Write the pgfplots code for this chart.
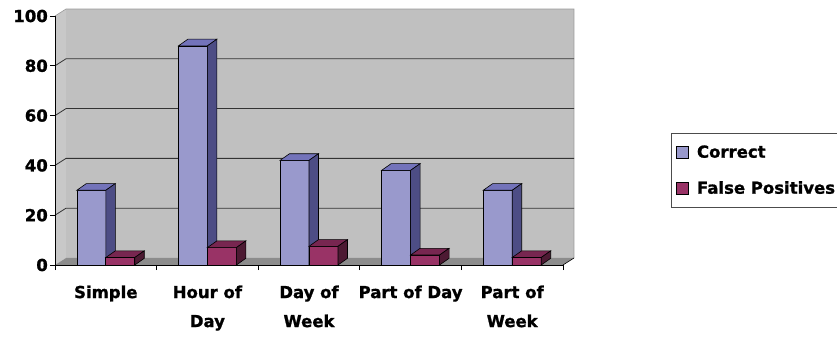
\documentclass[border=0pt]{standalone}
\usepackage{pgfplots}
\pgfplotsset{compat=1.18}
\usepackage{pgfplotstable}
\usepackage{fontspec}
\setmainfont{DejaVu Sans}[BoldFeatures={FakeBold=1.2}]

\definecolor{wallgray}{HTML}{C0C0C0}
\definecolor{sidegray}{HTML}{C8C8C8}
\definecolor{floorgray}{HTML}{8C8C8C}
\definecolor{gridcol}{HTML}{333333}
\definecolor{corFront}{HTML}{9999CC}
\definecolor{corTop}{HTML}{7373BA}
\definecolor{corSide}{HTML}{4D4D85}
\definecolor{fpFront}{HTML}{993366}
\definecolor{fpTop}{HTML}{772650}
\definecolor{fpSide}{HTML}{4D1A33}

% scores per feature set
\pgfplotstableread{
cat correct falsepos
0 30 3
1 88 7
2 42 7.5
3 38 4
4 30 3
}\results

% 3D column drawn around the top centre of its front face; \barv is the value
\newcommand\colbox[3]{%
  \pgfmathsetlengthmacro\hh{\barv*2.49bp}%
  \filldraw[draw=black, line width=0.6bp, fill=#1] (-14.5bp,-\hh) rectangle (14.5bp,0pt);
  \filldraw[draw=black, line width=0.6bp, fill=#2] (-14.5bp,0pt) -- (14.5bp,0pt) -- (24bp,6.7bp) -- (-5bp,6.7bp) -- cycle;
  \filldraw[draw=black, line width=0.6bp, fill=#3] (14.5bp,0pt) -- (24bp,6.7bp) -- (24bp,6.7bp-\hh) -- (14.5bp,-\hh) -- cycle;
}
\pgfdeclareplotmark{colA}{\colbox{corFront}{corTop}{corSide}}
\pgfdeclareplotmark{colB}{\colbox{fpFront}{fpTop}{fpSide}}

\tikzset{back/.style={shift={(11bp,7bp)}}}

\begin{document}
\begin{tikzpicture}
\useasboundingbox (0,0) rectangle (837bp,338bp);
\begin{axis}[
  at={(55bp,73bp)}, anchor=south west,
  scale only axis, width=508bp, height=249bp,
  xmin=-0.5, xmax=4.5, ymin=0, ymax=100,
  clip=false, axis on top,
  axis x line*=bottom, axis y line*=left,
  axis line style={-, black, line width=0.8bp},
  tick align=outside, major tick length=5bp,
  tick style={black, line width=0.8bp},
  ytick={0,20,...,100},
  xtick={-0.5,0.5,...,4.5},
  x tick label as interval,
  xticklabels={Simple, Hour of\\Day, Day of\\Week, Part of Day, Part of\\Week},
  /pgf/number format/assume math mode=true,
  yticklabel style={font=\bfseries\fontsize{16.5bp}{19bp}\selectfont, inner sep=2bp},
  xticklabel style={font=\bfseries\fontsize{16.5bp}{29bp}\selectfont, align=center, yshift=-12bp},
  legend style={
    at={(axis description cs:1.2126,0.530)}, anchor=north west,
    draw=black!70, line width=0.8bp, fill=white,
    font=\bfseries\fontsize{16.5bp}{19bp}\selectfont,
    inner xsep=5bp, inner ysep=11bp, row sep=20bp,
    nodes={inner sep=1bp},
    /tikz/every odd column/.append style={column sep=7bp},
  },
  legend cell align=left,
  legend image code/.code={\filldraw[#1, draw=black, line width=0.6bp] (0bp,-6bp) rectangle (12bp,6bp);},
]
  % walls and floor
  \fill[sidegray] (axis cs:-0.5,0) -- (axis cs:-0.5,100) -- ([back]axis cs:-0.5,100) -- ([back]axis cs:-0.5,0) -- cycle;
  \fill[wallgray] ([back]axis cs:-0.5,0) rectangle ([back]axis cs:4.5,100);
  \draw[gray!80, line width=0.6bp] (axis cs:-0.5,100) -- ([back]axis cs:-0.5,100) -- ([back]axis cs:4.5,100) -- ([back]axis cs:4.5,0);
  \fill[floorgray] (axis cs:-0.5,0) -- (axis cs:4.5,0) -- ([back]axis cs:4.5,0) -- ([back]axis cs:-0.5,0) -- cycle;
  \draw[black, line width=0.6bp] (axis cs:4.5,0) -- ([back]axis cs:4.5,0);
  \pgfplotsinvokeforeach{20,40,60,80}{
    \draw[gridcol, line width=0.8bp] (axis cs:-0.5,#1) -- ([back]axis cs:-0.5,#1) -- ([back]axis cs:4.5,#1);
  }

  \addlegendimage{fill=corFront}
  \addlegendentry{Correct}
  \addlegendimage{fill=fpFront}
  \addlegendentry{False Positives}

  \addplot[only marks, mark=colA, forget plot,
    visualization depends on={y \as \barv}]
    table[x expr=\thisrow{cat}-0.1427, y=correct] {\results};
  \addplot[only marks, mark=colB, forget plot,
    visualization depends on={y \as \barv}]
    table[x expr=\thisrow{cat}+0.1427, y=falsepos] {\results};
\end{axis}
\end{tikzpicture}
\end{document}
